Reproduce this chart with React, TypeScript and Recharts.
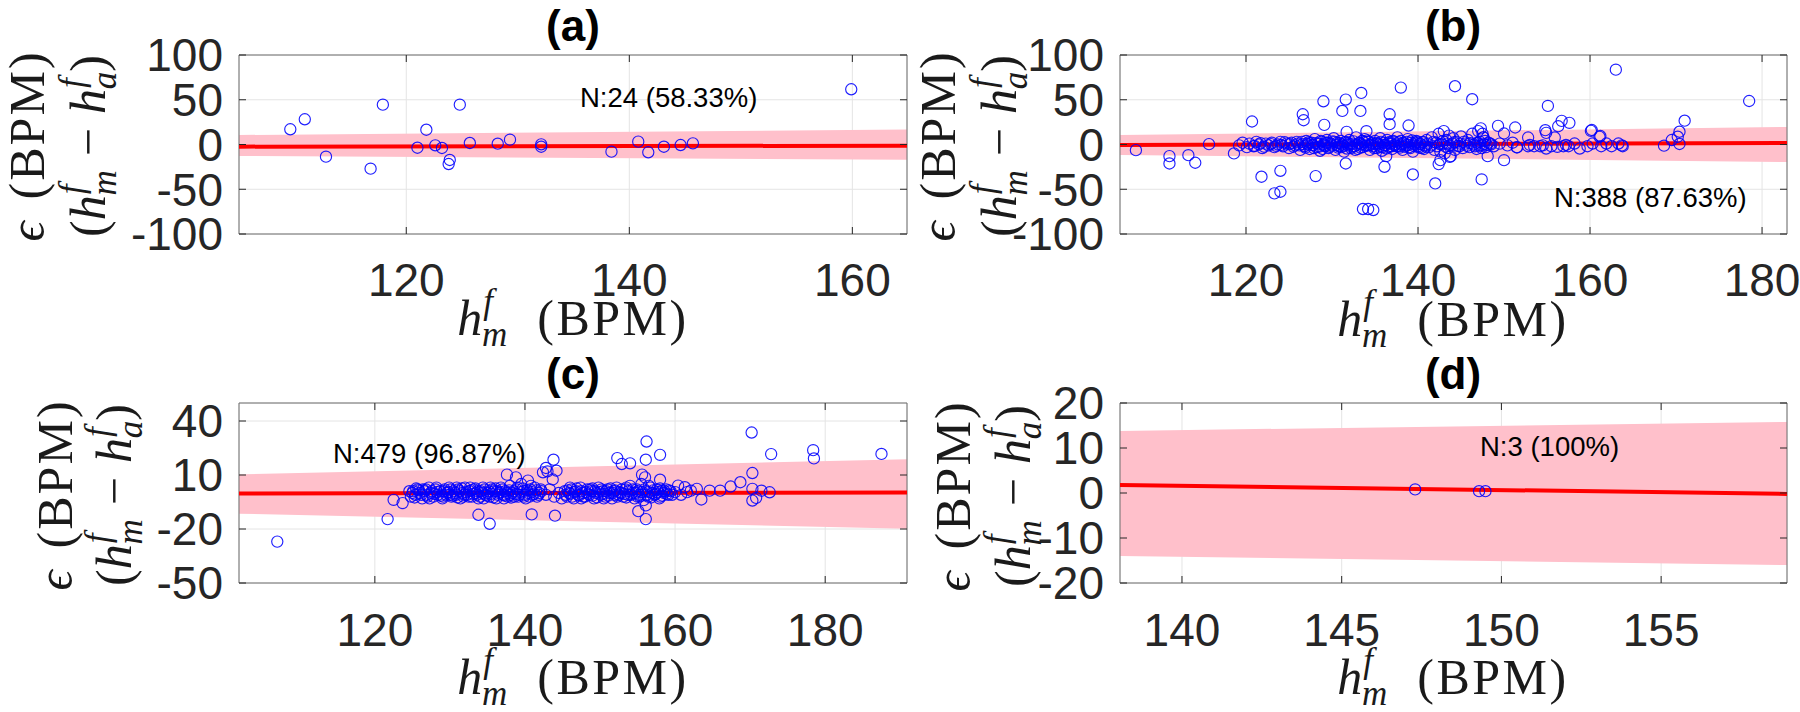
import React from 'react';
import { ComposedChart, Area, Line, Scatter, XAxis, YAxis, CartesianGrid, ReferenceArea } from 'recharts';

// ---------- Panel (a) ----------
const xTicksA = [120, 140, 160];
const yTicksA = [-100, -50, 0, 50, 100];
const xDomainA: [number, number] = [105, 164.9];
const yDomainA: [number, number] = [-100, 100];
const pointsA: [number, number][] = [
  [109.6, 17.0], [110.9, 28.2], [112.8, -13.6], [116.8, -27.0], [117.9, 44.5], [121.0, -3.6],
  [121.8, 16.5], [122.6, -0.9], [123.2, -3.9], [123.9, -17.3], [123.8, -21.8], [124.8, 44.5],
  [125.7, 1.7], [128.2, 0.9], [129.3, 5.4], [132.1, 0.2], [132.1, -2.5], [138.4, -8.0],
  [140.8, 3.2], [141.7, -8.7], [143.1, -2.5], [144.6, -0.6], [145.7, 1.3], [159.9, 61.7],
];
const bandXA = [105, 164.9];
const bandLoA = [-12.8, -17];
const bandHiA = [10.6, 16.8];
const fitA = [-2.4, -1.3];

// ---------- Panel (b) ----------
const xTicksB = [120, 140, 160, 180];
const yTicksB = [-100, -50, 0, 50, 100];
const xDomainB: [number, number] = [105.35, 182.9];
const yDomainB: [number, number] = [-100, 100];
const outliersB: [number, number][] = [
  [107.2, -6.3], [111.1, -13], [111.1, -21.2], [113.3, -11.9], [114.1, -20.4], [115.7, 0.4], [118.6, -10],
  [120.7, 25.7], [121.8, -36], [123.3, -54.6], [124.0, -52.8], [124.0, -29.4], [126.6, 33.8], [126.7, 27.1],
  [128.1, -35.3], [129.0, 48.3], [129.1, 21.9], [131.2, 37.5], [131.6, 50.2], [131.6, -21.2], [131.7, 14.1],
  [133.3, 37.5], [133.4, 57.6], [133.6, -72.1], [134.2, -72.1], [134.8, -73.2], [134.0, 14.9], [136.1, -24.9],
  [136.3, -13], [136.7, 33.8], [136.7, 22.7], [138.0, 63.6], [138.9, 21.2], [139.4, -33.5], [142.0, -43.5],
  [142.4, -21.9], [142.6, -17.5], [143.7, -13.8], [144.3, 65.1], [146.3, 50.6], [147.4, -39], [148.1, -13],
  [149.3, 20.8], [150.0, -17.5], [150.0, 12.3], [151.3, 19], [151.5, -3.3], [152.8, 7.8], [155.1, 43.1],
  [154.8, 16], [154.9, 13], [155.9, 7.8], [156.3, 20.4], [156.7, 26.4], [157.6, 24.2], [160.1, 15.2],
  [161.1, 8.6], [163.0, 83.6],
  [152.8, -1.9], [153.5, -1.9], [154.2, -1.9], [154.9, -4.5], [155.5, -1.9], [156.2, -2.6], [156.9, -1.9],
  [157.5, -1.9], [158.2, 1.1], [158.8, -4.5], [159.7, -1.9], [160.3, 1.1], [161.3, -1.9], [161.9, 1.1],
  [162.5, -1.9], [163.3, 1.1], [163.8, -1.9], [151.5, -3], [153.0, -0.5], [154.5, -1], [157.2, -0.5],
  [160.2, 16.2], [161.2, 9.5], [163.7, -1],
  [168.6, -1.3], [169.5, 5.0], [170.2, 8.7], [170.4, 14.3], [170.4, 0.6], [171.0, 26.6], [178.5, 48.6],
  [147.3, 18], [147.5, 12], [147.6, 8], [147.8, 4], [147.4, -4],
];
const clusterB: [number, number][] = [
  [119.2, -1], [119.6, 2], [120.1, -3], [120.4, 1], [120.9, -2], [121.2, 3], [121.5, 0], [121.9, -4], [122.3, 1],
  [122.6, -1], [123.0, 2], [123.3, -3], [123.7, 0], [124.0, 3], [124.3, -2], [124.7, 1], [125.0, -4], [125.3, 2],
  [125.7, -1], [126.0, 1], [126.3, -6], [126.5, 3],
  [126.8, -2], [127.0, 4], [127.2, 0], [127.4, -5], [127.6, 2], [127.8, -1], [128.0, 6], [128.2, -3], [128.4, 1],
  [128.6, -7], [128.8, 3], [129.0, 0], [129.2, -2], [129.4, 5], [129.6, -4], [129.8, 1], [130.0, -1], [130.2, 7],
  [130.4, -6], [130.6, 2], [130.8, -2], [131.0, 4], [131.2, 0], [131.4, -8], [131.6, 3], [131.8, -1], [132.0, 5],
  [132.2, -4], [132.4, 1], [132.6, -2], [132.8, 8], [133.0, -5], [133.2, 2], [133.4, 0], [133.6, -3], [133.8, 6],
  [134.0, -1], [134.2, 3], [134.4, -6], [134.6, 1], [134.8, -2], [135.0, 4], [135.2, -4], [135.4, 0], [135.6, 7],
  [135.8, -7], [136.0, 2], [136.2, -1], [136.4, 5], [136.6, -3], [136.8, 1], [137.0, -5], [137.2, 3], [137.4, 0],
  [137.6, 8], [137.8, -2], [138.0, 4], [138.2, -6], [138.4, 1], [138.6, -1], [138.8, 6], [139.0, -3], [139.2, 2],
  [139.4, -8], [139.6, 0], [139.8, 4], [140.0, -2], [140.2, 1], [140.4, -4], [140.6, 3], [140.8, -1], [141.0, 5],
  [127.1, 1], [127.9, -4], [128.9, -5], [129.5, 2], [130.3, 3], [131.1, -3], [131.9, 1], [132.7, -6], [133.5, 4],
  [134.3, -1], [135.1, 1], [135.9, -3], [136.7, 3], [137.5, -2], [138.3, 2], [139.1, -4], [139.9, 3], [140.7, -5],
  [141.3, -3], [141.6, 8], [141.9, -6], [142.1, 2], [142.4, 12], [142.6, -8], [142.8, 0], [143.0, 15], [143.1, -10],
  [143.3, 5], [143.5, -4], [143.6, 10], [143.8, -13], [144.0, 1], [144.1, 7], [144.3, -6], [144.5, 3], [144.8, -2],
  [145.0, 9], [145.2, -4], [145.5, 1], [145.8, 5], [146.0, -3], [146.3, 12], [146.5, 0], [146.8, -5], [147.0, 15],
  [147.2, 3], [147.4, -1], [147.6, 8], [147.9, -3], [148.2, 2], [148.5, 0], [148.8, -2], [149.5, 1], [150.4, -1],
  [151.0, 2],
  [121.0, -1.5], [121.7, 1.5], [122.1, -2.5], [122.9, 0.5], [123.5, -1.5], [124.1, -0.5], [124.5, 2.5], [125.1, 0.5],
  [125.5, -2.5], [125.9, 3], [126.2, -1], [126.6, 0.5], [126.9, -3.5], [127.3, 2.5], [127.7, -0.5], [128.1, 1.5],
  [128.5, -2.5], [128.7, 4], [129.1, -1], [129.3, 2], [129.7, -2.5], [130.1, 3.5], [130.5, -0.5], [130.7, -3.5],
  [130.9, 1.5], [131.3, -1.5], [131.5, 2.5], [131.7, -4.5], [132.1, 0.5], [132.3, -2.5], [132.5, 3.5], [132.9, -0.5],
  [133.1, 1.5], [133.3, -3.5], [133.7, 2.5], [133.9, -1.5], [134.1, 4.5], [134.5, -0.5], [134.7, 2], [134.9, -4],
  [135.3, 1.5], [135.5, -2.5], [135.7, 3], [136.1, -0.5], [136.3, -4.5], [136.5, 1.5], [136.9, -2], [137.1, 4],
  [137.3, -1], [137.7, 2.5], [137.9, -3.5], [138.1, 0.5], [138.5, -2.5], [138.7, 3], [138.9, -0.5], [139.3, 4.5],
  [139.5, -1.5], [139.7, 2], [140.1, -3.5], [140.3, 0.5], [140.5, 2.5], [140.9, -2.5], [141.1, 1], [141.5, -1],
  [141.8, 3], [142.2, -2], [142.5, 0.5], [142.9, 4], [143.2, -2.5], [143.4, 1], [143.7, -1], [144.2, 2.5],
  [144.6, -1.5], [144.9, 1], [145.3, 3], [145.7, -1.5], [146.1, 1.5], [146.6, -2], [146.9, 2], [147.1, -1.5],
  [147.7, 0.5], [148.0, -0.5], [148.4, 1],
];
const bandXB = [105.35, 182.9];
const bandLoB = [-11.7, -19.6];
const bandHiB = [10.6, 19.6];
const fitB = [-0.6, 1.7];

// ---------- Panel (c) ----------
const xTicksC = [120, 140, 160, 180];
const yTicksC = [-50, -20, 10, 40];
const xDomainC: [number, number] = [101.9, 190.9];
const yDomainC: [number, number] = [-50, 50];
const outliersC: [number, number][] = [
  [107.0, -27.0], [121.7, -14.5], [122.5, -3.8], [123.7, -5.6], [124.6, 1.0], [133.8, -12.1], [135.3, -17.1],
  [137.6, 10.2], [138.8, 8.7], [140.4, 6.9], [140.9, -11.9], [142.4, 11.5], [142.8, 13.9], [143.8, 18.5],
  [143.0, 12.0], [144.2, 12.4], [143.7, 7.5], [144.0, -12.6], [152.3, 19.4], [152.9, 16.1], [154.0, 16.5],
  [156.2, 28.6], [156.1, 18.5], [158.0, 21.2], [156.0, 8.7], [155.6, 10.2], [158.0, 7.4], [155.1, -10.1],
  [156.1, -6.9], [156.1, -14.5], [170.2, 33.6], [170.3, 11.1], [172.8, 21.6], [178.4, 23.8], [178.5, 19.2],
  [168.7, 6.0], [167.4, 3.6], [170.3, 2.3], [170.3, -4.2], [170.8, -2.7], [171.5, 1.3], [172.6, 0.4],
  [166.0, 1.3], [164.6, 1.3], [163.5, -3.6], [162.1, 1.3], [162.9, 2.3], [161.3, 3.2], [160.4, 4.1], [187.5, 21.7],
];
const clusterC: [number, number][] = [
  [124.8, -2], [125.1, 1], [125.4, -1], [125.7, 2], [126.0, 0], [126.3, -3], [126.6, 1], [126.9, -1], [127.2, 3],
  [127.5, 0], [127.8, -2], [128.1, 2], [128.4, -1], [128.7, 1], [129.0, -3], [129.3, 2], [129.6, 0], [129.9, 3],
  [130.2, -2], [130.5, 1], [130.8, -1], [131.1, 2], [131.4, -3], [131.7, 0], [132.0, 3], [132.3, -1], [132.6, 1],
  [132.9, -2], [133.2, 2], [133.5, 0], [133.8, -3], [134.1, 1], [134.4, 3], [134.7, -1], [135.0, 0], [135.3, -2],
  [135.6, 2], [135.9, 1], [136.2, -3], [136.5, 0], [136.8, 3], [137.1, -1], [137.4, 1], [137.7, -2], [138.0, 4],
  [138.3, 0], [138.6, -2], [138.9, 2], [139.2, -1], [139.5, 5], [139.8, 1], [140.1, -3], [140.4, 0], [140.7, 2],
  [141.0, -1], [141.3, 3], [141.6, -2], [141.9, 0], [142.2, 1],
  [125.5, 2.5], [126.4, 2], [127.3, -3], [128.2, 3], [129.1, -2], [130.0, -1], [130.9, 3], [131.8, -2], [132.7, 3],
  [133.6, -1], [134.5, -3], [135.4, 3], [136.3, 1], [137.2, -3], [138.1, -1], [139.0, 3], [139.9, -2], [140.8, 4],
  [142.8, -1], [143.3, 2], [143.9, -2], [144.5, 0], [144.9, -3],
  [145.3, 1], [145.6, -2], [145.9, 0], [146.2, 2], [146.5, -3], [146.8, 1], [147.1, -1], [147.4, 3], [147.7, 0],
  [148.0, -2], [148.3, 2], [148.6, -1], [148.9, 1], [149.2, -3], [149.5, 0], [149.8, 3], [150.1, -1], [150.4, 1],
  [150.7, -2], [151.0, 2], [151.3, 0], [151.6, -3], [151.9, 1], [152.2, 3], [152.5, -1], [152.8, 0], [153.1, -2],
  [153.4, 2], [153.7, -1], [154.0, 4], [154.3, 0], [154.6, -3], [154.9, 2], [155.2, -1], [155.5, 5], [155.8, -4],
  [156.1, 1], [156.4, -2], [156.7, 3], [157.0, 0], [157.3, -1], [157.6, 2], [157.9, -3], [158.2, 1], [158.5, 0],
  [158.8, 2], [159.1, -1], [159.4, 1],
  [146.0, 3], [147.5, -3], [149.0, 2.5], [150.5, -3], [152.0, -1], [153.5, 3], [155.0, -2], [156.5, 4], [158.0, -2],
  [125.0, 0], [125.3, -2.5], [125.9, 1.5], [126.2, -1], [126.8, 2], [127.0, -2], [127.6, 1], [127.9, -0.5],
  [128.3, 0.5], [128.8, -1.5], [129.2, 1], [129.5, -1], [129.8, 0.5], [130.1, 2], [130.4, -1.5], [130.7, 0],
  [131.0, -2.5], [131.3, 1], [131.6, 2.5], [131.9, -1], [132.2, 0.5], [132.5, -2], [132.8, 1.5], [133.1, -0.5],
  [133.4, 2.5], [133.7, 1], [134.0, -2], [134.3, 0], [134.6, 2], [134.9, -1.5], [135.2, 1], [135.5, -0.5],
  [135.8, -2.5], [136.1, 2.5], [136.4, -1], [136.7, 0.5], [137.0, 2], [137.3, -1.5], [137.6, 0], [137.9, 1.5],
  [138.2, -2.5], [138.5, 1], [138.8, -0.5], [139.1, -2], [139.4, 0.5], [139.7, 2.5], [140.0, -1], [140.3, 1.5],
  [140.6, -2], [140.9, 0.5], [141.2, -0.5], [141.5, 1.5], [141.8, -1], [142.1, 2],
  [145.4, -1], [145.7, 1.5], [146.0, -0.5], [146.3, -2], [146.6, 0.5], [146.9, 2.5], [147.2, -1.5], [147.5, 1],
  [147.8, -2], [148.1, 0.5], [148.4, -0.5], [148.7, 2], [149.0, -1.5], [149.3, 1], [149.6, -2.5], [149.9, 0.5],
  [150.2, 2], [150.5, -0.5], [150.8, 1], [151.1, -1.5], [151.4, 2.5], [151.7, 0], [152.0, 1.5], [152.3, -2],
  [152.6, 0.5], [152.9, 2], [153.2, -0.5], [153.5, -2.5], [153.8, 1], [154.1, -1], [154.4, 2], [154.7, 0],
  [155.0, 1], [155.3, -2], [155.6, 0.5], [155.9, 2], [156.2, -1], [156.5, 0.5], [156.8, -2.5], [157.1, 1.5],
  [157.4, -0.5], [157.7, 0.5], [158.0, 2.5], [158.3, -1.5], [158.6, 1], [158.9, -0.5], [159.2, 1.5], [159.6, -1],
  [160.0, 0.5], [160.8, -1], [161.6, 0.5],
];
const bandXC = [101.9, 190.9];
const bandLoC = [-11.5, -19.8];
const bandHiC = [10.3, 18.7];
const fitC = [-0.3, 0.3];

// ---------- Panel (d) ----------
const xTicksD = [140, 145, 150, 155];
const yTicksD = [-20, -10, 0, 10, 20];
const xDomainD: [number, number] = [138.06, 158.94];
const yDomainD: [number, number] = [-20, 20];
const pointsD: [number, number][] = [[147.3, 0.8], [149.3, 0.4], [149.5, 0.4]];
const bandXD = [138.06, 158.94];
const bandLoD = [-14, -16];
const bandHiD = [13.8, 15.8];
const fitD = [1.8, -0.2];

const SANS = '"Liberation Sans", Arial, Helvetica, sans-serif';
const SERIF = '"Liberation Serif", "Times New Roman", "DejaVu Serif", serif';
const AXIS_TEXT = '#262626';

const Circ = (props: any) => {
  const { cx, cy } = props;
  if (cx == null || cy == null) return null;
  return <circle cx={cx} cy={cy} r={5.6} fill="none" stroke="#0000ff" strokeOpacity={0.88} strokeWidth={1.15} />;
};

type PanelProps = {
  left: number; top: number; width: number; height: number;
  plotLeft: number; plotTop: number; plotRight: number; plotBottom: number;
  xTickMargin: number;
  xDomain: [number, number]; yDomain: [number, number];
  xTicks: number[]; yTicks: number[];
  points: [number, number][];
  bandX: number[]; bandLo: number[]; bandHi: number[]; fit: number[];
};

function Panel(p: PanelProps) {
  const yAxisW = 60;
  const xAxisH = 30;
  const yTickMargin = 16;
  const tickLen = 7;
  const margin = {
    top: p.plotTop,
    left: p.plotLeft - yAxisW,
    right: p.width - p.plotRight,
    bottom: p.height - p.plotBottom - xAxisH,
  };
  const plotW = p.plotRight - p.plotLeft;
  const plotH = p.plotBottom - p.plotTop;
  const data = p.bandX.map((x, i) => ({ x, band: [p.bandLo[i], p.bandHi[i]], fit: p.fit[i] }));
  const pts = p.points.map(([x, y]) => ({ x, y }));

  const XT = (props: any) => {
    const { x, y, payload } = props;
    const bottom = y - p.xTickMargin;
    const top = bottom - plotH;
    return (
      <g>
        <line x1={x} x2={x} y1={bottom} y2={bottom - tickLen} stroke={AXIS_TEXT} strokeWidth={1} />
        <line x1={x} x2={x} y1={top} y2={top + tickLen} stroke={AXIS_TEXT} strokeWidth={1} />
        <text x={x} y={y} dy="0.71em" textAnchor="middle" fontSize={46} fontFamily={SANS} fill={AXIS_TEXT}>
          {payload.value}
        </text>
      </g>
    );
  };
  const YT = (props: any) => {
    const { x, y, payload } = props;
    const l = x + yTickMargin;
    const r = l + plotW;
    return (
      <g>
        <line x1={l} x2={l + tickLen} y1={y} y2={y} stroke={AXIS_TEXT} strokeWidth={1} />
        <line x1={r - tickLen} x2={r} y1={y} y2={y} stroke={AXIS_TEXT} strokeWidth={1} />
        <text x={x} y={y} dy="0.355em" textAnchor="end" fontSize={46} fontFamily={SANS} fill={AXIS_TEXT}>
          {payload.value}
        </text>
      </g>
    );
  };

  return (
    <div style={{ position: 'absolute', left: p.left, top: p.top, width: p.width, height: p.height }}>
      <ComposedChart width={p.width} height={p.height} data={data} margin={margin}>
        <CartesianGrid stroke="#e4e4e4" strokeWidth={1} />
        <XAxis
          type="number" dataKey="x" domain={p.xDomain} ticks={p.xTicks} allowDataOverflow interval={0}
          tickSize={0} tickMargin={p.xTickMargin} axisLine={false} tickLine={false} tick={XT} height={xAxisH}
        />
        <YAxis
          type="number" domain={p.yDomain} ticks={p.yTicks} allowDataOverflow interval={0}
          tickSize={0} tickMargin={yTickMargin} axisLine={false} tickLine={false} tick={YT} width={yAxisW}
        />
        <Area type="linear" dataKey="band" fill="#ffc0cb" fillOpacity={1} stroke="none" isAnimationActive={false} />
        <Scatter data={pts} dataKey="y" shape={Circ} isAnimationActive={false} />
        <Line type="linear" dataKey="fit" stroke="#ff0000" strokeWidth={4} dot={false} isAnimationActive={false} />
        <ReferenceArea
          x1={p.xDomain[0]} x2={p.xDomain[1]} y1={p.yDomain[0]} y2={p.yDomain[1]}
          fill="none" fillOpacity={0} stroke="#6e6e6e" strokeWidth={1} ifOverflow="visible"
        />
      </ComposedChart>
    </div>
  );
}

// h_{sub}^{f} as tspans; the next tspan returns to the baseline with dy={-11}
function hSubSup(sub: string, key: string, dxBefore = 0) {
  return [
    <tspan key={key + 'h'} fontStyle="italic" dx={dxBefore}>h</tspan>,
    <tspan key={key + 'f'} fontStyle="italic" fontSize={35} dx={1} dy={-22}>f</tspan>,
    <tspan key={key + 's'} fontStyle="italic" fontSize={35} dx={-11} dy={33}>{sub}</tspan>,
  ];
}

function XLabel({ cx, y }: { cx: number; y: number }) {
  return (
    <text x={cx} y={y} textAnchor="middle" fontSize={50} fontFamily={SERIF} fill="#1a1a1a">
      {hSubSup('m', 'x')}
      <tspan dx={30} dy={-11} letterSpacing={2.5}>(BPM)</tspan>
    </text>
  );
}

function YLabel({ x1, x2, cy }: { x1: number; x2: number; cy: number }) {
  return (
    <g>
      <text transform={`translate(${x1},${cy}) rotate(-90)`} textAnchor="middle" fontSize={50} fontFamily={SERIF} fill="#1a1a1a">
        <tspan fontStyle="italic">ϵ</tspan>
        <tspan dx={22} letterSpacing={2}>(BPM)</tspan>
      </text>
      <text transform={`translate(${x2},${cy}) rotate(-90)`} textAnchor="middle" fontSize={50} fontFamily={SERIF} fill="#1a1a1a">
        <tspan>(</tspan>
        {hSubSup('m', 'a')}
        <tspan dx={14} dy={-11}>−</tspan>
        {hSubSup('a', 'b', 14)}
        <tspan dy={-11}>)</tspan>
      </text>
    </g>
  );
}

export default function App() {
  return (
    <div style={{ position: 'absolute', left: 0, top: 0, width: 1800, height: 712, background: '#ffffff', overflow: 'hidden' }}>
      <Panel
        left={0} top={0} width={920} height={356}
        plotLeft={239} plotTop={55} plotRight={907} plotBottom={234} xTickMargin={29}
        xDomain={xDomainA} yDomain={yDomainA} xTicks={xTicksA} yTicks={yTicksA}
        points={pointsA} bandX={bandXA} bandLo={bandLoA} bandHi={bandHiA} fit={fitA}
      />
      <Panel
        left={900} top={0} width={900} height={356}
        plotLeft={220} plotTop={55} plotRight={887} plotBottom={234} xTickMargin={29}
        xDomain={xDomainB} yDomain={yDomainB} xTicks={xTicksB} yTicks={yTicksB}
        points={[...clusterB, ...outliersB]} bandX={bandXB} bandLo={bandLoB} bandHi={bandHiB} fit={fitB}
      />
      <Panel
        left={0} top={356} width={920} height={356}
        plotLeft={239} plotTop={47} plotRight={907} plotBottom={227} xTickMargin={30}
        xDomain={xDomainC} yDomain={yDomainC} xTicks={xTicksC} yTicks={yTicksC}
        points={[...clusterC, ...outliersC]} bandX={bandXC} bandLo={bandLoC} bandHi={bandHiC} fit={fitC}
      />
      <Panel
        left={900} top={356} width={900} height={356}
        plotLeft={220} plotTop={47} plotRight={887} plotBottom={227} xTickMargin={30}
        xDomain={xDomainD} yDomain={yDomainD} xTicks={xTicksD} yTicks={yTicksD}
        points={pointsD} bandX={bandXD} bandLo={bandLoD} bandHi={bandHiD} fit={fitD}
      />
      <svg width={1800} height={712} style={{ position: 'absolute', left: 0, top: 0, pointerEvents: 'none' }}>
        <g fontFamily={SANS} fontWeight="bold" fontSize={44} fill="#000" textAnchor="middle">
          <text x={573} y={41}>(a)</text>
          <text x={1453} y={41}>(b)</text>
          <text x={573} y={389}>(c)</text>
          <text x={1453} y={389}>(d)</text>
        </g>
        <XLabel cx={573} y={335} />
        <XLabel cx={1453} y={336} />
        <XLabel cx={573} y={694} />
        <XLabel cx={1453} y={694} />
        <YLabel x1={44} x2={105} cy={146} />
        <YLabel x1={955} x2={1016} cy={146} />
        <YLabel x1={72} x2={131} cy={495} />
        <YLabel x1={970} x2={1030} cy={496} />
        <g fontFamily={SANS} fontSize={27.5} fill="#000">
          <text x={580} y={107}>N:24 (58.33%)</text>
          <text x={1554} y={207}>N:388 (87.63%)</text>
          <text x={333} y={463}>N:479 (96.87%)</text>
          <text x={1480} y={456}>N:3 (100%)</text>
        </g>
      </svg>
    </div>
  );
}
